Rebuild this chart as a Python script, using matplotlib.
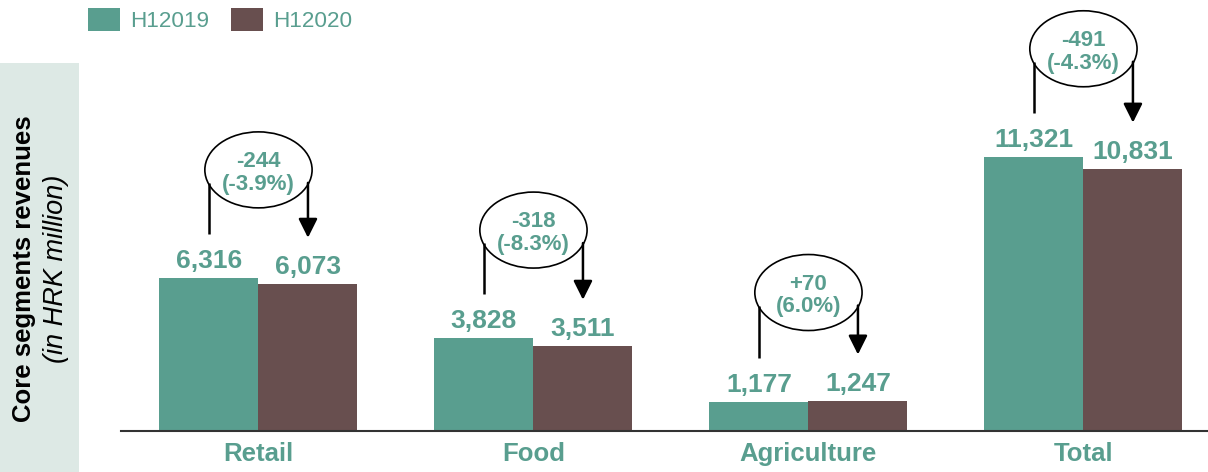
import matplotlib.pyplot as plt
from matplotlib.patches import Ellipse, Patch, Rectangle
import numpy as np

plt.rcParams['font.family'] = ['Liberation Sans', 'DejaVu Sans']

# values (HRK million)
categories = ['Retail', 'Food', 'Agriculture', 'Total']
h1_2019 = [6316, 3828, 1177, 11321]
h1_2020 = [6073, 3511, 1247, 10831]
change_abs = ['-244', '-318', '+70', '-491']
change_pct = ['(-3.9%)', '(-8.3%)', '(6.0%)', '(-4.3%)']

TEAL = '#599e8f'
BROWN = '#684f4f'

fig = plt.figure(figsize=(12.08, 4.72), dpi=100)

# shaded panel behind the y label
fig.patches.append(Rectangle((0, 0), 79 / 1208, 1 - 63 / 472, transform=fig.transFigure,
                             facecolor='#dde9e5', edgecolor='none', zorder=0))
fig.text(24 / 1208, 0.43, 'Core segments revenues', rotation=90, ha='center', va='center',
         fontsize=18.5, fontweight='bold', color='black')
fig.text(56 / 1208, 0.43, '(in HRK million)', rotation=90, ha='center', va='center',
         fontsize=19.5, fontstyle='italic', color='black')

ax = fig.add_axes([120.7 / 1208, 41.3 / 472, 1 - 120.7 / 1208, 430.7 / 472])
ax.set_facecolor('none')

x = np.arange(len(categories))
w = 0.36
ax.bar(x - w / 2, h1_2019, width=w, color=TEAL, zorder=2)
ax.bar(x + w / 2, h1_2020, width=w, color=BROWN, zorder=2)

ax.set_xlim(-0.501, 3.453)
ax.set_ylim(0, 17800)

for s in ['top', 'right', 'left']:
    ax.spines[s].set_visible(False)
ax.spines['bottom'].set_color('#333333')
ax.spines['bottom'].set_linewidth(1.5)
ax.set_yticks([])
ax.set_xticks(x)
ax.set_xticklabels(categories, fontsize=18.5, fontweight='bold', color=TEAL)
ax.tick_params(axis='x', length=0, pad=8)

# value labels
for i in range(len(categories)):
    ax.annotate(f'{h1_2019[i]:,}', (x[i] - w / 2, h1_2019[i]), xytext=(0, 7.2),
                textcoords='offset points', ha='center', va='baseline',
                fontsize=19, fontweight='bold', color=TEAL)
    ax.annotate(f'{h1_2020[i]:,}', (x[i] + w / 2, h1_2020[i]), xytext=(0, 7.2),
                textcoords='offset points', ha='center', va='baseline',
                fontsize=19, fontweight='bold', color=TEAL)

# change bubbles with arrows
upp = 17800 / 430.7  # data units per pixel
for i in range(len(categories)):
    top = max(h1_2019[i], h1_2020[i])
    cy = top + 108 * upp
    ax.add_patch(Ellipse((x[i], cy), 0.39, 76 * upp, facecolor='none',
                         edgecolor='black', lw=1.2, zorder=4))
    ax.text(x[i], cy - 3 * upp, change_abs[i] + '\n' + change_pct[i], ha='center', va='center',
            fontsize=16, fontweight='bold', color=TEAL, linespacing=1.1, zorder=5)
    y0 = cy - 13 * upp
    ax.plot([x[i] - w / 2, x[i] - w / 2], [y0, h1_2019[i] + 44 * upp],
            color='black', lw=1.8, solid_capstyle='butt', zorder=3)
    ax.annotate('', xy=(x[i] + w / 2, h1_2020[i] + 46 * upp), xytext=(x[i] + w / 2, y0),
                arrowprops=dict(arrowstyle='-|>,head_length=0.8,head_width=0.4',
                                mutation_scale=14.4, lw=1.8, color='black',
                                shrinkA=0, shrinkB=0), zorder=3)

handles = [Patch(facecolor=TEAL, label='H12019'), Patch(facecolor=BROWN, label='H12020')]
leg = fig.legend(handles=handles, loc='upper left', bbox_to_anchor=(88 / 1208, 1 - 8 / 472),
                 ncol=2, frameon=False, fontsize=16.2, handlelength=1.43, handleheight=1.22,
                 handletextpad=0.45, columnspacing=0.95, borderpad=0, borderaxespad=0)
for t in leg.get_texts():
    t.set_color(TEAL)

fig.savefig('out.png', dpi=100)
